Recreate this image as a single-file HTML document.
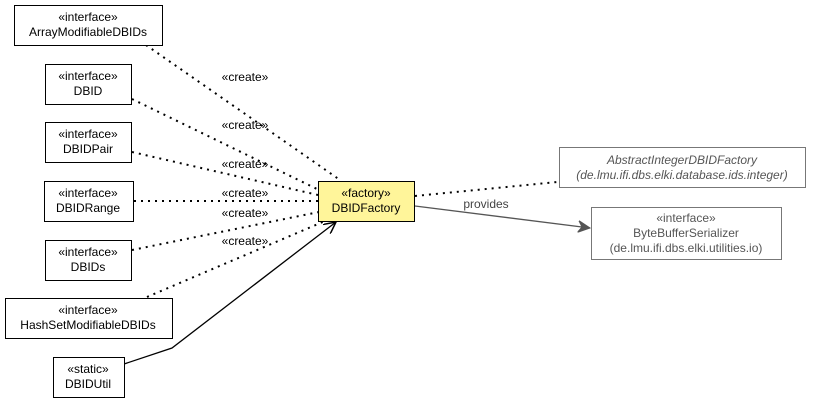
<!DOCTYPE html>
<html><head><meta charset="utf-8"><style>
html,body{margin:0;padding:0;background:#fff;}
svg{display:block;}
text{font-family:"Liberation Sans",sans-serif;font-size:12px;}
</style></head><body>
<svg width="820" height="403" viewBox="0 0 820 403" xmlns="http://www.w3.org/2000/svg">
<defs>
<marker id="ab" markerWidth="14" markerHeight="12" refX="12" refY="6" orient="auto" markerUnits="userSpaceOnUse">
<path d="M0,0 L12,6 L0,12" fill="none" stroke="#000" stroke-width="1.5"/></marker>
<marker id="ag" markerWidth="14" markerHeight="12" refX="12" refY="6" orient="auto" markerUnits="userSpaceOnUse">
<path d="M0,0 L12,6 L0,12 L4,6 Z" fill="#555" stroke="#555" stroke-width="1"/></marker>
</defs>
<g stroke="#000" stroke-width="2" stroke-dasharray="2,5" fill="none" stroke-linecap="butt">
<line x1="146" y1="45" x2="340" y2="180"/>
<line x1="132" y1="99" x2="319" y2="190"/>
<line x1="132" y1="152" x2="318" y2="195"/>
<line x1="134" y1="201" x2="318" y2="201"/>
<line x1="132" y1="250" x2="319" y2="212"/>
<line x1="147" y1="297" x2="325" y2="221"/>
<line x1="415" y1="196" x2="557" y2="182"/>
</g>
<polyline points="124,364 172,348 336,222" fill="none" stroke="#000" stroke-width="1.3" marker-end="url(#ab)"/>
<line x1="415" y1="206" x2="590" y2="228" stroke="#555" stroke-width="1.3" marker-end="url(#ag)"/>
<g fill="#000" text-anchor="middle">
<text x="245" y="81">«create»</text>
<text x="245" y="129">«create»</text>
<text x="245" y="168">«create»</text>
<text x="245" y="197">«create»</text>
<text x="245" y="217">«create»</text>
<text x="245" y="245">«create»</text>
</g>
<text x="486" y="208" fill="#444" text-anchor="middle">provides</text>
<g fill="#fff" stroke="#000" stroke-width="1">
<rect x="14.5" y="5.5" width="148" height="40"/>
<rect x="45.5" y="64.5" width="86" height="40"/>
<rect x="45.5" y="122.5" width="86" height="40"/>
<rect x="44.5" y="181.5" width="89" height="40"/>
<rect x="45.5" y="240.5" width="86" height="40"/>
<rect x="5.5" y="298.5" width="167" height="40"/>
<rect x="53.5" y="357.5" width="71" height="40"/>
<rect x="318.5" y="181.5" width="96" height="40" fill="#fff59a"/>
</g>
<g fill="#fff" stroke="#777" stroke-width="1">
<rect x="559.5" y="147.5" width="246" height="40"/>
<rect x="591.5" y="207.5" width="190" height="52"/>
</g>
<g fill="#000" text-anchor="middle">
<text x="88" y="21">«interface»</text><text x="88" y="36">ArrayModifiableDBIDs</text>
<text x="88" y="80">«interface»</text><text x="88" y="95">DBID</text>
<text x="88" y="138">«interface»</text><text x="88" y="153">DBIDPair</text>
<text x="88" y="197">«interface»</text><text x="88" y="212">DBIDRange</text>
<text x="88" y="256">«interface»</text><text x="88" y="271">DBIDs</text>
<text x="88" y="314">«interface»</text><text x="88" y="329">HashSetModifiableDBIDs</text>
<text x="88" y="373">«static»</text><text x="88" y="388">DBIDUtil</text>
<text x="366" y="197">«factory»</text><text x="366" y="212">DBIDFactory</text>
</g>
<g fill="#555" text-anchor="middle">
<text x="682" y="164" font-style="italic">AbstractIntegerDBIDFactory</text>
<text x="682" y="179" font-style="italic">(de.lmu.ifi.dbs.elki.database.ids.integer)</text>
<text x="686" y="222">«interface»</text>
<text x="686" y="237">ByteBufferSerializer</text>
<text x="686" y="252">(de.lmu.ifi.dbs.elki.utilities.io)</text>
</g>
</svg>
</body></html>
